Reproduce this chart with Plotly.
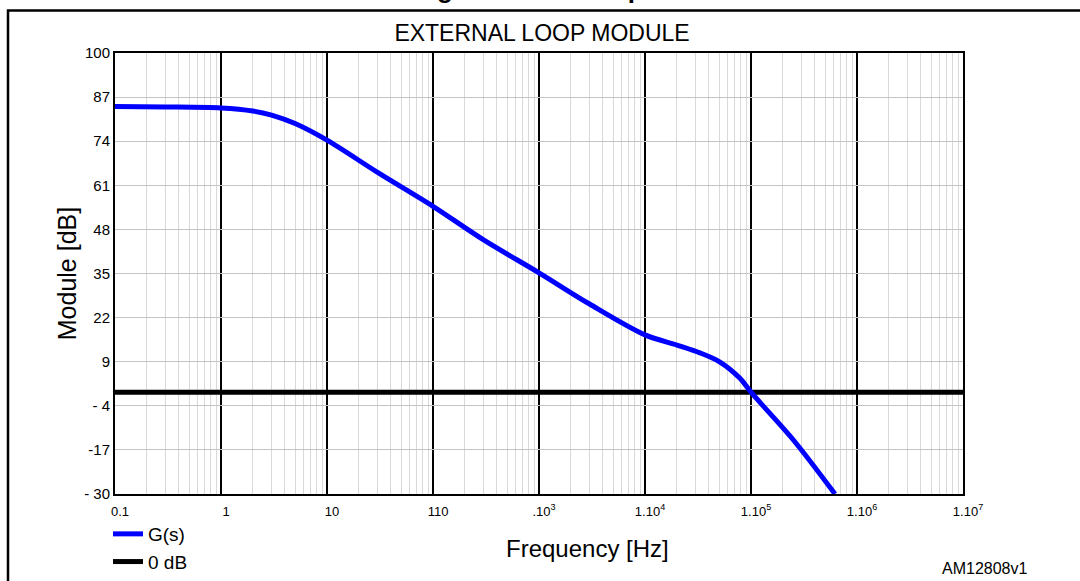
import plotly.graph_objects as go

# ---- data ----
freq_hz = [0.1, 0.3, 1, 2, 3, 5, 10, 30, 100, 300, 1000, 3000, 10000, 20000,
           33000, 51000, 78700, 100000, 250000, 620000]
gain_db = [84.2, 84.1, 83.8, 82.9, 81.7, 79.2, 74.3, 64.8, 54.8, 44.9, 35.2,
           26.0, 16.9, 13.9, 11.6, 8.9, 4.1, 0.0, -14.0, -30.0]
zero_freq = [0.1, 1e7]
zero_db = [0, 0]

x_tickvals = [0.1, 1, 10, 100, 1000, 1e4, 1e5, 1e6, 1e7]
x_ticktext = ["0.1", "1", "10", "110", ".10<sup>3</sup>", "1.10<sup>4</sup>",
              "1.10<sup>5</sup>", "1.10<sup>6</sup>", "1.10<sup>7</sup>"]
y_tickvals = [100, 87, 74, 61, 48, 35, 22, 9, -4, -17, -30]
y_ticktext = ["100", "87", "74", "61", "48", "35", "22", "9", "- 4", "-17", "- 30"]

FONT = "Arial, Liberation Sans, sans-serif"
W, H = 1080, 581
L, R, T, B = 115, 117, 53, 87
PW, PH = W - L - R, H - T - B


def px(x):
    return (x - L) / PW


def py(y):
    return (H - B - y) / PH


fig = go.Figure()
fig.add_trace(go.Scatter(x=zero_freq, y=zero_db, mode="lines", name="0 dB",
                         line=dict(color="black", width=5), legendrank=2))
fig.add_trace(go.Scatter(x=freq_hz, y=gain_db, mode="lines", name="G(s)",
                         line=dict(color="#0000ff", width=5, shape="spline", smoothing=0.9),
                         legendrank=1))

fig.update_layout(
    width=W, height=H,
    margin=dict(l=L, r=R, t=T, b=B, autoexpand=False),
    paper_bgcolor="white", plot_bgcolor="white",
    font=dict(family=FONT, color="black"),
    title=dict(text="EXTERNAL LOOP MODULE", x=px(542), xanchor="center", xref="paper",
               y=(H - 33) / H, yanchor="middle", yref="container",
               font=dict(size=23, family=FONT)),
    showlegend=True,
    legend=dict(x=px(108), xanchor="left", y=py(515), yanchor="top",
                font=dict(size=19, family=FONT), bgcolor="rgba(0,0,0,0)",
                tracegroupgap=0, itemwidth=30),
    xaxis=dict(type="log", range=[-1, 7], tickmode="array",
               tickvals=x_tickvals, ticktext=x_ticktext,
               showgrid=True, gridcolor="black", gridwidth=2,
               minor=dict(dtick="D1", showgrid=True, gridcolor="#d9d9d9",
                          gridwidth=1, ticks=""),
               showline=True, linecolor="black", linewidth=2, mirror=True,
               ticks="", tickfont=dict(size=13, family=FONT),
               ticklabelshift=5, ticklabelstandoff=4,
               zeroline=False),
    yaxis=dict(range=[-30, 100], tickmode="array",
               tickvals=y_tickvals, ticktext=y_ticktext,
               showgrid=True, gridcolor="#c4c4c4", gridwidth=1,
               showline=True, linecolor="black", linewidth=2, mirror=True,
               ticks="", tickfont=dict(size=15, family=FONT),
               title=dict(text="Module [dB]", font=dict(size=25, family=FONT),
                          standoff=0),
               zeroline=False),
    shapes=[
        dict(type="path", xref="paper", yref="paper",
             path=f"M {px(8)},{py(600)} L {px(8)},{py(10.5)} L {px(1085)},{py(10.5)}",
             line=dict(color="black", width=2.5)),
    ],
    annotations=[
        dict(text="Frequency [Hz]", xref="paper", yref="paper", x=px(587), y=py(548),
             xanchor="center", yanchor="middle", showarrow=False,
             font=dict(size=24, family=FONT)),
        dict(text="AM12808v1", xref="paper", yref="paper", x=px(940), y=py(568),
             xanchor="left", yanchor="middle", showarrow=False,
             font=dict(size=16, family=FONT)),
        dict(text="<b>Figure 6. Module plot</b>", xref="paper", yref="paper",
             x=px(545), y=py(6), xanchor="center", yanchor="bottom",
             showarrow=False, font=dict(size=26, family=FONT)),
    ],
)

fig.write_html("out.html", config={"displayModeBar": False},
               post_script="document.body.style.margin='0';")
